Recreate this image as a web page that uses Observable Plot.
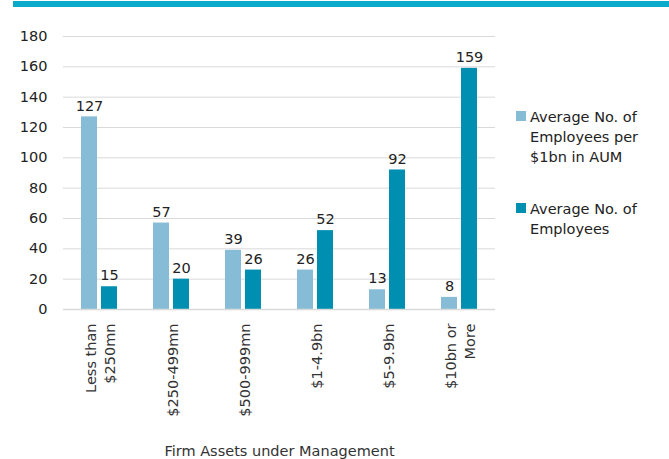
<!DOCTYPE html>
<html>
<head>
<meta charset="utf-8">
<script src="https://cdn.jsdelivr.net/npm/d3@7"></script>
<script src="https://cdn.jsdelivr.net/npm/@observablehq/plot@0.6"></script>
<style>
  html, body { margin: 0; padding: 0; background: #fff; }
  #wrap { position: relative; width: 669px; height: 459px; font-family: "DejaVu Sans", sans-serif; }
  #topbar { position: absolute; left: 13px; top: 1px; width: 656px; height: 6px; background: #0aabca; }
  #legend { position: absolute; left: 516px; top: 107px; font-size: 14.5px; color: #222; line-height: 20px; }
  .item { display: flex; align-items: flex-start; margin-bottom: 32px; }
  .sw { width: 10px; height: 10px; margin-top: 4px; margin-right: 4px; flex: none; }
  .lab { width: 140px; }
</style>
</head>
<body>
<div id="wrap">
  <div id="topbar"></div>
  <div id="chart"></div>
  <div id="legend"></div>
</div>
<script>
const categories = ["Less than\n$250mn", "$250-499mn", "$500-999mn", "$1-4.9bn", "$5-9.9bn", "$10bn or\nMore"];
const perBillion = [127, 57, 39, 26, 13, 8];
const employees = [15, 20, 26, 52, 92, 159];
const seriesNames = ["Average No. of Employees per $1bn in AUM", "Average No. of Employees"];
const colors = ["#86bcd5", "#008fb1"];
const yTicks = [0, 20, 40, 60, 80, 100, 120, 140, 160, 180];
const axisTitle = "Firm Assets under Management";

const data = [];
categories.forEach((c, i) => {
  data.push({cat: c, series: seriesNames[0], value: perBillion[i]});
  data.push({cat: c, series: seriesNames[1], value: employees[i]});
});

const chart = Plot.plot({
  width: 669,
  height: 459,
  marginLeft: 61,
  marginRight: 172,
  marginTop: 36,
  marginBottom: 150,
  style: {fontFamily: "DejaVu Sans, sans-serif", fontSize: "14.5px", color: "#222", background: "transparent"},
  fx: {domain: categories, padding: 0},
  x: {domain: seriesNames, paddingInner: 0.223, paddingOuter: 0.876, axis: null},
  y: {domain: [0, 180]},
  color: {domain: seriesNames, range: colors},
  marks: [
    Plot.gridY(yTicks, {stroke: "#d9d9d9", strokeOpacity: 1}),
    Plot.axisY(yTicks, {tickSize: 0, tickPadding: 16, label: null}),
    Plot.barY(data, {fx: "cat", x: "series", y: "value", fill: "series"}),
    Plot.text(data, {fx: "cat", x: "series", y: "value", text: "value", dy: -11, fill: "#222"}),
    Plot.ruleY([0], {stroke: "#d9d9d9", strokeWidth: 1.5}),
    Plot.axisFx({anchor: "bottom", tickRotate: -90, tickSize: 0, tickPadding: 14, lineHeight: 1.3, label: axisTitle, labelAnchor: "center", labelOffset: 146, color: "#333"})
  ]
});
document.getElementById("chart").appendChild(chart);

const legend = document.getElementById("legend");
seriesNames.forEach((s, i) => {
  const it = document.createElement("div");
  it.className = "item";
  const sw = document.createElement("div");
  sw.className = "sw";
  sw.style.background = colors[i];
  const lab = document.createElement("div");
  lab.className = "lab";
  lab.textContent = s;
  it.appendChild(sw);
  it.appendChild(lab);
  legend.appendChild(it);
});
</script>
</body>
</html>
